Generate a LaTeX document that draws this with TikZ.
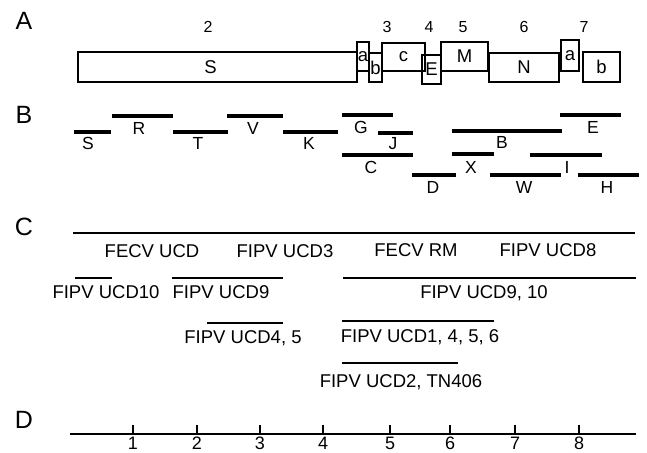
\documentclass[tikz,border=0pt]{standalone}
\usepackage{fontspec}
\setmainfont{Liberation Sans}
\newcommand\mkseg[5]{% style, name, x1, x2, y
  \coordinate (#2-l) at (#3,#5);
  \coordinate (#2-r) at (#4,#5);
  \draw[#1] (#2-l) -- (#2-r);}
\begin{document}
\begin{tikzpicture}[x=1pt,y=-1pt,
  box/.style={draw, line width=1.3pt, inner sep=0pt, font=\fontsize{18.5}{18.5}\selectfont},
  bseg/.style={line width=3.3pt},
  cseg/.style={line width=2.4pt},
  panel/.style={font=\fontsize{25}{25}\selectfont, anchor=base, inner sep=0pt},
  num/.style={font=\fontsize{16}{16}\selectfont, anchor=base, inner sep=0pt},
  blab/.style={font=\fontsize{17.5}{18}\selectfont, anchor=base, inner sep=0pt},
  clab/.style={font=\fontsize{18.5}{19}\selectfont, anchor=base, inner sep=0pt},
  tlab/.style={font=\fontsize{18}{18}\selectfont, anchor=base, inner sep=0pt},
  axis/.style={line width=1.7pt},
  tick/.style={line width=1.1pt},
]
\useasboundingbox (0,0) rectangle (647,452);

% ---------- A ----------
\node[panel] (pA) at (24,30) {A};
\node[num] (n2) at (208,33) {2};
\node[num] (n3) at (387,33) {3};
\node[num] (n4) at (429,33) {4};
\node[num] (n5) at (463,33) {5};
\node[num] (n6) at (524,33) {6};
\node[num] (n7) at (584,33) {7};

\node[box, minimum width=279pt, minimum height=30pt] (bS) at (217.5,67) {S\hspace*{14pt}};
\node[box, minimum width=12pt, minimum height=29pt] (ba) at (363,56.5) {a};
\node[box, minimum width=13pt, minimum height=29pt] (bb) at (375.5,67.5) {b};
\node[box, minimum width=43pt, minimum height=28pt] (bc) at (403.5,57) {c};
\node[box, minimum width=19pt, minimum height=29pt] (bE) at (431.5,69.5) {E};
\node[box, minimum width=47pt, minimum height=29pt] (bM) at (464.5,56.5) {M};
\node[box, minimum width=70pt, minimum height=29pt] (bN) at (524,67.5) {N};
\node[box, minimum width=18pt, minimum height=31pt] (ba7) at (570,55.5) {a};
\node[box, minimum width=37pt, minimum height=30pt] (bb7) at (601.5,67) {b};

% ---------- B ----------
\node[panel] (pB) at (24,123) {B};
\mkseg{bseg}{sS}{74}{111}{132}   \node[blab] (lS) at (88,149) {S};
\mkseg{bseg}{sR}{112}{173}{116}  \node[blab] (lR) at (139,134) {R};
\mkseg{bseg}{sT}{173}{228}{132}  \node[blab] (lT) at (198,149) {T};
\mkseg{bseg}{sV}{227}{283}{116}  \node[blab] (lV) at (253,134) {V};
\mkseg{bseg}{sK}{283}{338}{132}  \node[blab] (lK) at (309,149) {K};
\mkseg{bseg}{sG}{342}{393}{115}  \node[blab] (lG) at (361,133) {G};
\mkseg{bseg}{sJ}{378}{413}{133}  \node[blab] (lJ) at (393,149) {J};
\mkseg{bseg}{sC}{342}{413}{155}  \node[blab] (lC) at (371,173) {C};
\mkseg{bseg}{sD}{412}{456}{175}  \node[blab] (lD) at (433,193) {D};
\mkseg{bseg}{sB}{452}{562}{131}  \node[blab] (lB) at (502,148) {B};
\mkseg{bseg}{sX}{452}{494}{154}  \node[blab] (lX) at (471,173) {X};
\mkseg{bseg}{sE}{560}{621}{115}  \node[blab] (lE) at (593,133) {E};
\mkseg{bseg}{sI}{530}{602}{155}  \node[blab] (lI) at (567,173) {I};
\mkseg{bseg}{sW}{490}{561}{175}  \node[blab] (lW) at (524,193) {W};
\mkseg{bseg}{sH}{578}{639}{175}  \node[blab] (lH) at (607,193) {H};

% ---------- C ----------
\node[panel] (pC) at (24,235) {C};
\mkseg{cseg}{cTop}{73}{635}{233}
\node[clab] (lFECVUCD) at (152,257) {FECV UCD};
\node[clab] (lUCD3) at (285,257) {FIPV UCD3};
\node[clab] (lRM) at (416,256) {FECV RM};
\node[clab] (lUCD8) at (548,256) {FIPV UCD8};
\mkseg{cseg}{c10}{75}{112}{278}
\node[clab] (lUCD10) at (106,298) {FIPV UCD10};
\mkseg{cseg}{c9}{172}{283}{278}
\node[clab] (lUCD9) at (221,298) {FIPV UCD9};
\mkseg{cseg}{c910}{343}{636}{278}
\node[clab] (lUCD910) at (484,298) {FIPV UCD9, 10};
\mkseg{cseg}{c45}{207}{283}{323}
\node[clab] (lUCD45) at (243,343) {FIPV UCD4, 5};
\mkseg{cseg}{c1456}{342}{494}{321}
\node[clab] (lUCD1456) at (420,342) {FIPV UCD1, 4, 5, 6};
\mkseg{cseg}{c2}{342}{458}{363}
\node[clab] (lUCD2) at (401,387) {FIPV UCD2, TN406};

% ---------- D ----------
\node[panel] (pD) at (24,428) {D};
\mkseg{axis}{ax}{70}{636}{434}
\foreach \k/\x in {1/133,2/197,3/260,4/323,5/390,6/450,7/515,8/579}{
  \coordinate (tb\k) at (\x,434);
  \coordinate (tt\k) at (\x,425);
  \draw[tick] (tb\k) -- (tt\k);
  \node[tlab] (tl\k) at (\x,449) {\k};
}
\end{tikzpicture}
\end{document}
